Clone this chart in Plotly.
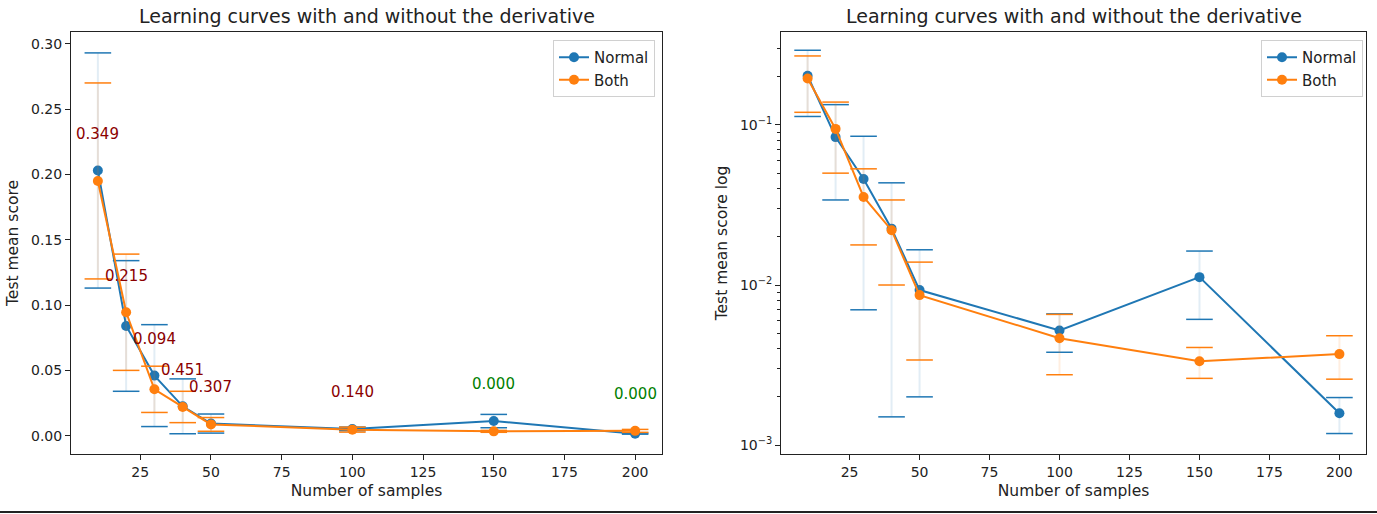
import plotly.graph_objects as go

# values
samples = [10, 20, 30, 40, 50, 100, 150, 200]
normal_mean = [0.203, 0.084, 0.046, 0.0225, 0.0093, 0.0052, 0.0112, 0.00158]
normal_err = [0.090, 0.050, 0.039, 0.021, 0.0073, 0.0014, 0.0051, 0.0004]
both_mean = [0.195, 0.0945, 0.0355, 0.022, 0.00865, 0.00465, 0.00334, 0.0037]
both_err = [0.075, 0.0445, 0.0177, 0.012, 0.00525, 0.0019, 0.00073, 0.00112]
p_labels = ["0.349", "0.215", "0.094", "0.451", "0.307", "0.140", "0.000", "0.000"]

BLUE = "#1f77b4"
ORANGE = "#ff7f0e"
FONT = "DejaVu Sans"
W, H = 1377, 514


def px_x(p):
    return p / W


def px_y(p):
    return 1 - p / H


series = [
    ("Normal", normal_mean, normal_err, BLUE, "rgba(31,119,180,0.13)"),
    ("Both", both_mean, both_err, ORANGE, "rgba(255,127,14,0.13)"),
]

fig = go.Figure()

for axis_id, legend_id in (("", "legend"), ("2", "legend2")):
    xa, ya = "x" + axis_id, "y" + axis_id
    for name, mean, err, color, light in series:
        # stems
        fig.add_trace(go.Scatter(
            x=samples, y=mean, mode="markers", marker=dict(size=1, opacity=0),
            error_y=dict(type="data", array=err, visible=True, width=0,
                         thickness=2, color=light),
            xaxis=xa, yaxis=ya, showlegend=False, hoverinfo="skip",
        ))
        # caps
        caps_y = [m + e for m, e in zip(mean, err)] + [m - e for m, e in zip(mean, err)]
        fig.add_trace(go.Scatter(
            x=samples + samples, y=caps_y, mode="markers",
            marker=dict(symbol="line-ew", size=19, line=dict(width=1.5, color=color)),
            xaxis=xa, yaxis=ya, showlegend=False, hoverinfo="skip",
        ))
        fig.add_trace(go.Scatter(
            x=samples, y=mean, mode="lines+markers", name=name,
            line=dict(color=color, width=2), marker=dict(size=10, color=color),
            xaxis=xa, yaxis=ya, legend=legend_id,
        ))

# p-value labels on the left panel
for s, a, b, lab in zip(samples, normal_mean, both_mean, p_labels):
    fig.add_annotation(
        x=s, y=max(a, b) + 0.028, xref="x", yref="y", text=lab, showarrow=False,
        font=dict(size=15, color="green" if float(lab) < 0.05 else "darkred"),
        xanchor="center", yanchor="middle",
    )

title = "Learning curves with and without the derivative"
for x0, x1 in ((71, 662), (781, 1366)):
    fig.add_annotation(
        x=px_x((x0 + x1) / 2), y=px_y(16), xref="paper", yref="paper", text=title,
        showarrow=False, font=dict(size=19, color="#222"),
        xanchor="center", yanchor="middle",
    )

axis_common = dict(
    showline=True, linecolor="#222", linewidth=1, mirror=True, showgrid=False,
    zeroline=False, ticks="outside", ticklen=5, tickcolor="#222",
    tickfont=dict(size=14, color="#222"),
)
label_font = dict(size=15.5, color="#222")

fig.update_layout(
    width=W, height=H, margin=dict(l=0, r=0, t=0, b=0),
    paper_bgcolor="white", plot_bgcolor="white",
    font=dict(family=FONT, size=14, color="#222"),
    xaxis=dict(domain=[px_x(71), px_x(662)], range=[0.5, 209.5], anchor="y",
               tickvals=[25, 50, 75, 100, 125, 150, 175, 200],
               title=dict(text="Number of samples", standoff=6, font=label_font),
               **axis_common),
    yaxis=dict(domain=[px_y(454), px_y(32)], range=[-0.014, 0.309], anchor="x",
               tickvals=[0, 0.05, 0.10, 0.15, 0.20, 0.25, 0.30], tickformat=".2f",
               title=dict(text="Test mean score", standoff=8, font=label_font),
               **axis_common),
    xaxis2=dict(domain=[px_x(781), px_x(1366)], range=[0.5, 209.5], anchor="y2",
                tickvals=[25, 50, 75, 100, 125, 150, 175, 200],
                title=dict(text="Number of samples", standoff=6, font=label_font),
                **axis_common),
    yaxis2=dict(domain=[px_y(454), px_y(32)], type="log", range=[-3.056, -0.419],
                anchor="x2", tickvals=[0.001, 0.01, 0.1],
                ticktext=["10<sup>−3</sup>", "10<sup>−2</sup>", "10<sup>−1</sup>"],
                minor=dict(ticks="outside", ticklen=3, tickcolor="#222",
                           tickvals=[k * 10 ** e for e in (-3, -2, -1) for k in range(2, 10)]),
                title=dict(text="Test mean score log", standoff=8, font=label_font),
                **axis_common),
    legend=dict(x=px_x(655), y=px_y(40), xanchor="right", yanchor="top",
                bordercolor="#d0d0d0", borderwidth=1, bgcolor="rgba(255,255,255,0.8)",
                font=dict(size=15), tracegroupgap=0),
    legend2=dict(x=px_x(1363), y=px_y(40), xanchor="right", yanchor="top",
                 bordercolor="#d0d0d0", borderwidth=1, bgcolor="rgba(255,255,255,0.8)",
                 font=dict(size=15), tracegroupgap=0),
    shapes=[dict(type="line", xref="paper", yref="paper", x0=0, x1=1,
                 y0=px_y(512), y1=px_y(512), line=dict(color="#222", width=2))],
)

fig.write_html("out.html", config={"displayModeBar": False},
               post_script="document.body.style.margin='0';")
